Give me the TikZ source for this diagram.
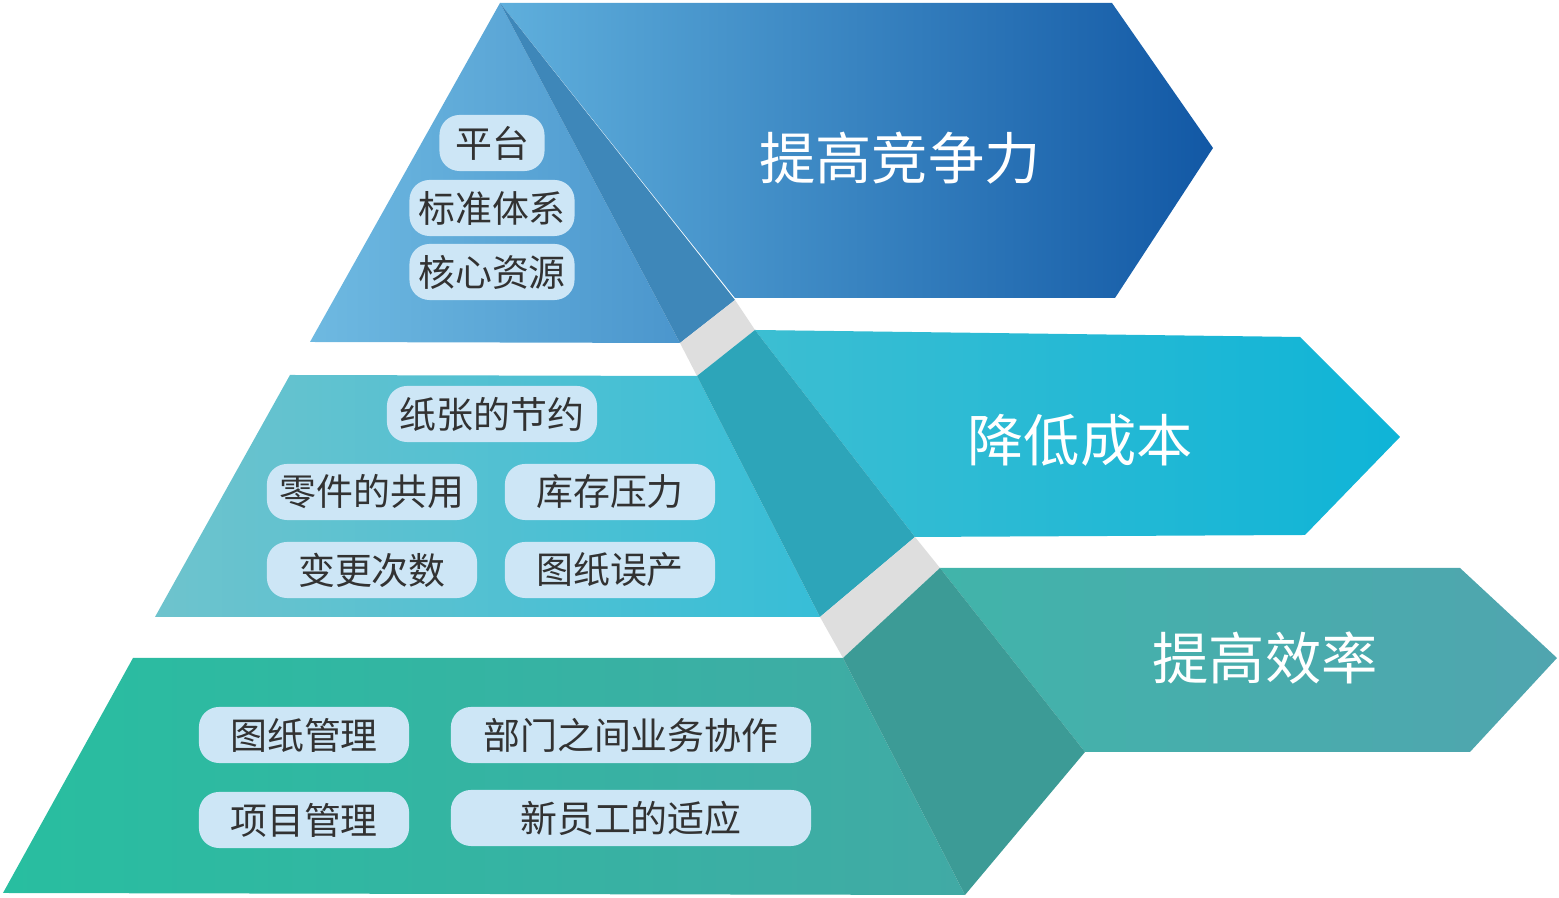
\documentclass[tikz,border=0pt]{standalone}
\usepackage{fontspec}
\newfontfamily\cjk{Noto Sans CJK SC}
\definecolor{pillfill}{RGB}{205,230,246}
\definecolor{pilltext}{RGB}{50,50,50}
\definecolor{gapgray}{RGB}{222,222,222}
\tikzset{
    pill/.style={fill=pillfill, rounded corners=0.2cm, minimum height=0.56cm,
        text=pilltext, font=\cjk\fontsize{10.5pt}{12pt}\selectfont, inner sep=0pt},
    goal/.style={text=white, font=\cjk\fontsize{16pt}{18pt}\selectfont}
}

\begin{document}
\begin{tikzpicture}[x=0.01cm, y=-0.01cm]
    \useasboundingbox (0,0) rectangle (1559,898);
    % top level
    \shade[left color={rgb,255:red,95;green,175;blue,220}, right color={rgb,255:red,18;green,88;blue,165}]
        (500,3) -- (1112,3) -- (1213,148) -- (1115,298) -- (735,298) -- cycle;
    \shade[left color={rgb,255:red,110;green,185;blue,225}, right color={rgb,255:red,75;green,150;blue,205}]
        (500,3) -- (680,343) -- (310,342) -- cycle;
    \fill[fill={rgb,255:red,62;green,135;blue,185}] (500,3) -- (735,300) -- (680,343) -- cycle;
    \fill[gapgray] (680,343) -- (735,300) -- (755,330) -- (697,376) -- cycle;
    % middle level
    \shade[left color={rgb,255:red,60;green,190;blue,210}, right color={rgb,255:red,15;green,180;blue,215}]
        (755,330) -- (1300,337) -- (1400,437) -- (1305,535) -- (915,537) -- cycle;
    \shade[left color={rgb,255:red,110;green,195;blue,205}, right color={rgb,255:red,55;green,190;blue,215}]
        (290,375) -- (697,376) -- (820,617) -- (155,617) -- cycle;
    \fill[fill={rgb,255:red,45;green,165;blue,185}] (697,376) -- (755,330) -- (915,537) -- (820,617) -- cycle;
    \fill[gapgray] (820,617) -- (915,537) -- (940,568) -- (843,658) -- cycle;
    % bottom level
    \shade[left color={rgb,255:red,65;green,180;blue,170}, right color={rgb,255:red,80;green,165;blue,175}]
        (940,568) -- (1460,568) -- (1557,658) -- (1470,752) -- (1085,752) -- cycle;
    \shade[left color={rgb,255:red,40;green,190;blue,160}, right color={rgb,255:red,65;green,170;blue,165}]
        (133,658) -- (843,658) -- (965,895) -- (3,893) -- cycle;
    \fill[fill={rgb,255:red,60;green,155;blue,150}] (843,658) -- (940,568) -- (1085,752) -- (965,895) -- cycle;
    % labels
    \node[pill, minimum width=1.05cm] (pingtai) at (492,143) {平台};
    \node[pill, minimum width=1.65cm] (biaozhun) at (492,208) {标准体系};
    \node[pill, minimum width=1.65cm] (hexin) at (492,272) {核心资源};
    \node[pill, minimum width=2.1cm] (zhizhang) at (492,414) {纸张的节约};
    \node[pill, minimum width=2.1cm] (lingjian) at (372,492) {零件的共用};
    \node[pill, minimum width=2.1cm] (kucun) at (610,492) {库存压力};
    \node[pill, minimum width=2.1cm] (biangeng) at (372,570) {变更次数};
    \node[pill, minimum width=2.1cm] (wuchan) at (610,570) {图纸误产};
    \node[pill, minimum width=2.1cm] (tuzhi) at (304,735) {图纸管理};
    \node[pill, minimum width=3.6cm] (bumen) at (631,735) {部门之间业务协作};
    \node[pill, minimum width=2.1cm] (xiangmu) at (304,820) {项目管理};
    \node[pill, minimum width=3.6cm] (xinyuan) at (631,818) {新员工的适应};
    \node[goal] (jingzheng) at (900,158) {提高竞争力};
    \node[goal] (chengben) at (1080,440) {降低成本};
    \node[goal] (xiaolv) at (1265,658) {提高效率};
\end{tikzpicture}
\end{document}
